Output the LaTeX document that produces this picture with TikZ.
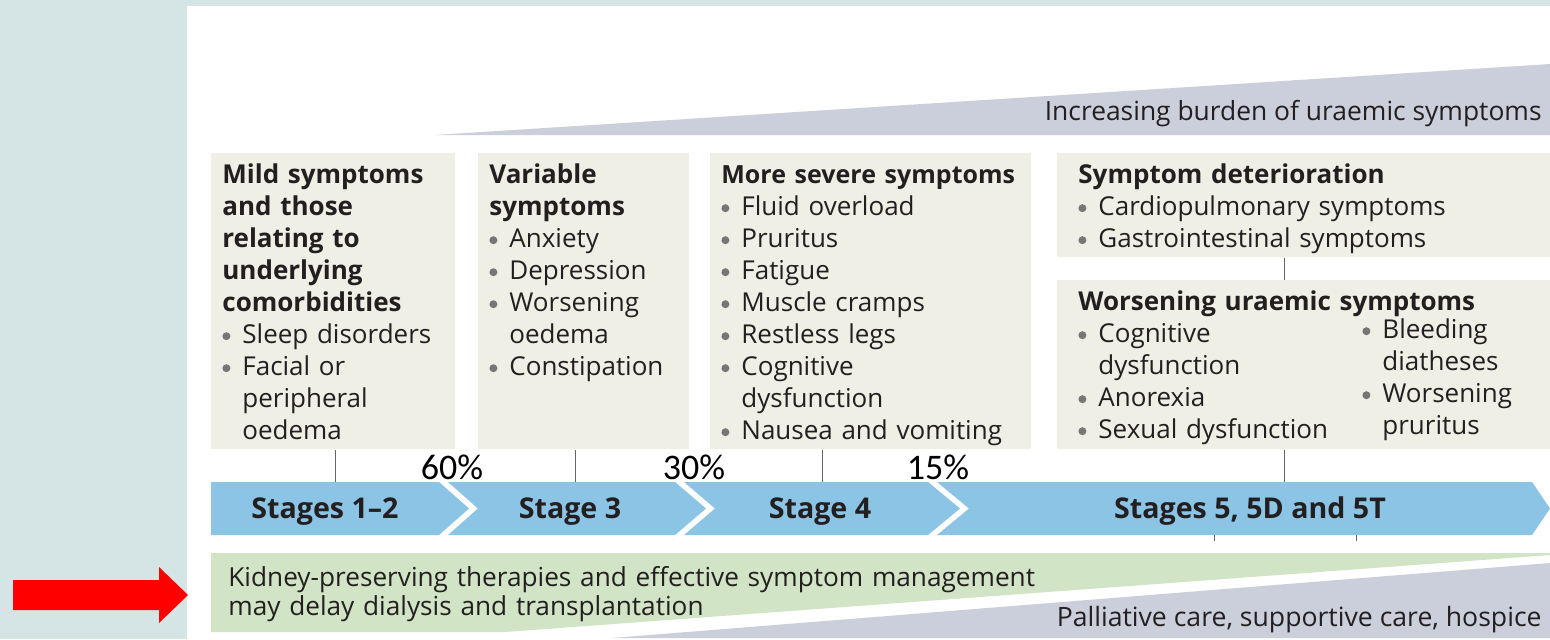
\documentclass[tikz,border=0pt]{standalone}
\usepackage{fontspec}
\setmainfont{Open Sans}
\newfontfamily\pctfont{Carlito}
\usepackage{xcolor}
\usepackage{tikz}

\definecolor{fondo}{HTML}{D5E4E4}
\definecolor{boxbg}{HTML}{EFEFE6}
\definecolor{bandblue}{HTML}{8BC4E4}
\definecolor{kidgreen}{HTML}{D1E4C5}
\definecolor{burden}{HTML}{CBCFDC}
\definecolor{dotgray}{HTML}{777777}
\definecolor{ink}{HTML}{231F20}
\definecolor{linkgray}{HTML}{666666}

\newcommand{\bul}{\makebox[10pt][l]{\tikz[baseline=0pt]\fill[dotgray] (2pt,3.6pt) circle (2pt);}}
\newcommand{\cnt}{\hspace*{10pt}}

\tikzset{
  symbox/.style={fill=boxbg, anchor=north west, inner xsep=5.5pt, inner ysep=0pt,
    align=left, text=ink, text height=15pt, font=\fontsize{13pt}{16pt}\selectfont},
  stagelbl/.style={anchor=base, font=\fontsize{14.3pt}{16pt}\selectfont\bfseries, text=ink},
  pct/.style={font=\fontsize{18pt}{20pt}\selectfont\pctfont, text=black},
  link/.style={draw=linkgray, line width=0.5pt},
}

\begin{document}
\begin{tikzpicture}[x=0.5pt, y=-0.5pt]
    \useasboundingbox (0,0) rectangle (1550,639);
    % Sfondo
    \fill[fondo] (0,0) rectangle (1550,639);
    \fill[white] (187,6) rectangle (1550,639);

    % Freccia rossa
    \fill[red] (13,580) -- (159,580) -- (159,567) -- (188,595) -- (159,623) -- (159,610) -- (13,610) -- cycle;

    % Triangolo superiore
    \fill[burden] (435,135) -- (1550,64) -- (1550,135) -- cycle;
    \node[anchor=base east, inner sep=0pt, text=ink, font=\fontsize{13.2pt}{15pt}\selectfont] (burdenlbl) at (1542,120)
        {Increasing burden of uraemic symptoms};

    % Riquadri dei sintomi
    \node[symbox, text width=111pt, text depth=133pt] (mild) at (211,153)
        {\textbf{Mild symptoms}\\ \textbf{and those}\\ \textbf{relating to}\\ \textbf{underlying}\\
         \textbf{comorbidities}\\ \bul Sleep disorders\\ \bul Facial or\\ \cnt peripheral\\ \cnt oedema};
    \node[symbox, text width=94.5pt, text depth=133pt] (variable) at (478,153)
        {\textbf{Variable}\\ \textbf{symptoms}\\ \bul Anxiety\\ \bul Depression\\ \bul Worsening\\
         \cnt oedema\\ \bul Constipation};
    \node[symbox, text width=149.5pt, text depth=133pt] (severe) at (710,153)
        {\mbox{\fontsize{12.5pt}{16pt}\selectfont\bfseries More severe symptoms}\\ \bul Fluid overload\\ \bul Pruritus\\ \bul Fatigue\\
         \bul Muscle cramps\\ \bul Restless legs\\ \bul Cognitive\\ \cnt dysfunction\\ \bul Nausea and vomiting};
    \node[symbox, inner xsep=10.5pt, text width=225.5pt, text depth=37pt] (deterior) at (1057,153)
        {\textbf{Symptom deterioration}\\ \bul Cardiopulmonary symptoms\\ \bul Gastrointestinal symptoms};
    \node[symbox, inner xsep=10.5pt, text width=225.5pt, text depth=69.5pt] (worsening) at (1057,280)
        {\mbox{\bfseries Worsening uraemic symptoms}\\
         \parbox[t]{142pt}{\bul Cognitive\\ \cnt dysfunction\\ \bul Anorexia\\ \bul Sexual dysfunction}%
         \raisebox{2pt}{\parbox[t]{83pt}{\bul Bleeding\\ \cnt diatheses\\ \bul Worsening\\ \cnt pruritus}}};

    % Banda degli stadi
    \fill[bandblue] (211,482) -- (439,482) -- (469,508.5) -- (439,535) -- (211,535) -- cycle;
    \fill[bandblue] (448,482) -- (675,482) -- (706,508.5) -- (675,535) -- (448,535) -- (478,508.5) -- cycle;
    \fill[bandblue] (684,482) -- (928,482) -- (960,508.5) -- (928,535) -- (684,535) -- (715,508.5) -- cycle;
    \fill[bandblue] (937,482) -- (1532,482) -- (1550,508.5) -- (1532,535) -- (937,535) -- (969,508.5) -- cycle;

    \node[stagelbl] (st1) at (325,518) {Stages 1--2};
    \node[stagelbl] (st2) at (570,518) {Stage 3};
    \node[stagelbl] (st3) at (820,518) {Stage 4};
    \node[stagelbl] (st4) at (1250,518) {Stages 5, 5D and 5T};

    % Percentuali
    \node[pct] (p60) at (452,467) {60\%};
    \node[pct] (p30) at (694,467) {30\%};
    \node[pct] (p15) at (938,467) {15\%};

    % Collegamenti
    \coordinate (t1) at (335,482);
    \coordinate (t2) at (575,482);
    \coordinate (t3) at (822,482);
    \coordinate (t4) at (1284,482);
    \draw[link] (t1 |- mild.south) -- (t1);
    \draw[link] (t2 |- variable.south) -- (t2);
    \draw[link] (t3 |- severe.south) -- (t3);
    \draw[link] (t4 |- worsening.south) -- (t4);
    \draw[link] (t4 |- deterior.south) -- (t4 |- worsening.north);
    \coordinate (k1) at (1214,535);
    \coordinate (k2) at (1356,535);
    \draw[link] (k1) -- ++(0,6);
    \draw[link] (k2) -- ++(0,6);

    % Bande inferiori
    \fill[kidgreen] (211,553) -- (1550,553) -- (1550,555) -- (505,632) -- (211,632) -- cycle;
    \node[anchor=base west, text width=440pt, align=left, text=ink, inner sep=0pt,
        font=\fontsize{13.1pt}{14.5pt}\selectfont] (kidney) at (228,586)
        {Kidney-preserving therapies and effective symptom management\\ may delay dialysis and transplantation};
    \fill[burden] (612,638) -- (1550,563) -- (1550,638) -- cycle;
    \node[anchor=base east, inner sep=0pt, text=ink, font=\fontsize{13.3pt}{15pt}\selectfont] (palliative) at (1542,626)
        {Palliative care, supportive care, hospice};
\end{tikzpicture}
\end{document}
